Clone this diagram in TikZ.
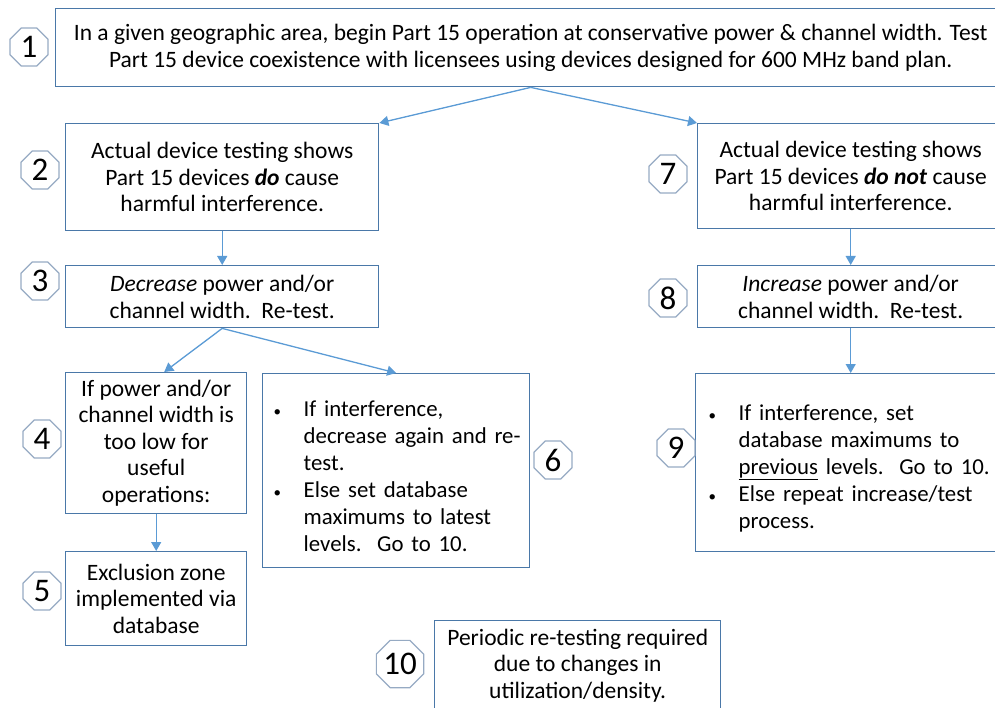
\documentclass[tikz,border=0pt]{standalone}
\usepackage{fontspec}
\setmainfont{Carlito}
\usepackage{enumitem}
\usetikzlibrary{arrows.meta,shapes.geometric}
\definecolor{boxblue}{RGB}{74,120,168}
\definecolor{arrowblue}{RGB}{91,155,213}
\definecolor{ringgray}{RGB}{150,170,195}
\newcommand{\bulletlist}[1]{\begin{itemize}[nosep,leftmargin=30pt,rightmargin=-60pt,labelwidth=8pt,labelsep=22pt,
  align=left,label={\fontsize{15}{15}\selectfont\textbullet}]\fontsize{22.8}{27}\selectfont\raggedright#1\end{itemize}}
\begin{document}
\begin{tikzpicture}[x=1pt,y=-1pt,
  font=\fontsize{23.5}{26.5}\selectfont,
  stepbox/.style={draw=boxblue,line width=1.4pt,anchor=north west,align=center,inner sep=0pt},
  numring/.style={draw=ringgray,line width=1.2pt,regular polygon,regular polygon sides=8,
    minimum size=41pt,inner sep=0pt,font=\fontsize{33}{33}\selectfont},
  flow/.style={draw=arrowblue,line width=1.3pt,-{Triangle[width=10pt,length=9pt]}}]
\useasboundingbox (0,0) rectangle (995,708);

\node[stepbox,minimum width=950,minimum height=78] (s1) at (55,8)
  {In a given geographic area, begin Part 15 operation at conservative power \& channel width. Test\\
   Part 15 device coexistence with licensees using devices designed for 600 MHz band plan.};
\node[stepbox,minimum width=313,minimum height=107] (s2) at (65,123)
  {Actual device testing shows\\ Part 15 devices \textbf{\textit{do}} cause\\ harmful interference.};
\node[stepbox,minimum width=313,minimum height=62] (s3) at (65,265)
  {\textit{Decrease} power and/or\\ channel width.\ \ Re-test.};
\node[stepbox,minimum width=181,minimum height=141] (s4) at (65,372)
  {If power and/or\\ channel width is\\ too low for\\ useful\\ operations:};
\node[stepbox,minimum width=181,minimum height=94] (s5) at (65,551)
  {Exclusion zone\\ implemented via\\ database};
\node[stepbox,minimum height=194,text width=245,inner xsep=11pt,align=left] (s6) at (262,373)
  {\bulletlist{\item If interference,\\ decrease again and re-\\test.
    \item Else set database\\ maximums to latest\\ levels.\ \ Go to 10.}};
\node[stepbox,minimum width=306,minimum height=105] (s7) at (697,123)
  {Actual device testing shows\\ Part 15 devices \textbf{\textit{do not}} cause\\ harmful interference.};
\node[stepbox,minimum width=306,minimum height=62] (s8) at (697,265)
  {\textit{Increase} power and/or\\ channel width.\ \ Re-test.};
\node[stepbox,minimum height=178,text width=284,inner xsep=13pt,align=left] (s9) at (695,373)
  {\bulletlist{\item If interference, set\\ database maximums to\\ \underline{previous} levels.\ \ Go to 10.
    \item Else repeat increase/test\\ process.}};
\node[stepbox,minimum width=286,minimum height=90] (s10) at (434,620)
  {Periodic re-testing required\\ due to changes in\\ utilization/density.};

% step numbers
\foreach \k/\x/\y in {1/29/47,2/40/170,3/40/281,4/42/439,5/42/591,6/553/460,7/668/174,8/668/298,9/676/448}
  \node[numring] (n\k) at (\x,\y) {\k};
\node[numring,minimum size=51pt] (n10) at (400,664) {10};

\draw[flow] (s1.south) -- (s2.north east);
\draw[flow] (s1.south) -- (s7.north west);
\draw[flow] (s2.south) -- (s3.north);
\draw[flow] (s3.south) -- ([xshift=8pt]s4.north);
\draw[flow] (s3.south) -- (s6.north);
\draw[flow] (s4.south) -- (s5.north);
\draw[flow] (s7.south) -- (s8.north);
\draw[flow] (s8.south) -- (s9.north);
\end{tikzpicture}
\end{document}
